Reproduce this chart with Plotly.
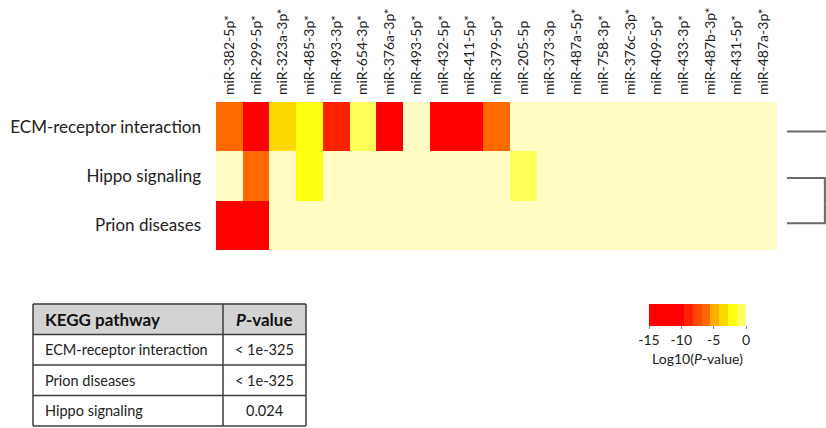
import plotly.graph_objects as go

# miRNAs (columns) and KEGG pathways (rows)
mirnas = [
    "miR-382-5p*", "miR-299-5p*", "miR-323a-3p*", "miR-485-3p*", "miR-493-3p*",
    "miR-654-3p*", "miR-376a-3p*", "miR-493-5p*", "miR-432-5p*", "miR-411-5p*",
    "miR-379-5p*", "miR-205-5p", "miR-373-3p", "miR-487a-5p*", "miR-758-3p*",
    "miR-376c-3p*", "miR-409-5p*", "miR-433-3p*", "miR-487b-3p*", "miR-431-5p*",
    "miR-487a-3p*",
]
pathways = ["ECM-receptor interaction", "Hippo signaling", "Prion diseases"]

# log10(P-value) per pathway and miRNA
log_p_ecm = [-6.5, -15, -3.5, -2.0, -9.0, -1.0, -15, 0, -15, -15, -6.5,
             0, 0, 0, 0, 0, 0, 0, 0, 0, 0]
log_p_hippo = [0, -6.5, 0, -2.0, 0, 0, 0, 0, 0, 0, 0,
               -1.0, 0, 0, 0, 0, 0, 0, 0, 0, 0]
log_p_prion = [-15, -15, 0, 0, 0, 0, 0, 0, 0, 0, 0,
               0, 0, 0, 0, 0, 0, 0, 0, 0, 0]

# Row dendrogram: leaf positions and merge heights
dendro_leaf_y = [0.1, 1.04, 1.96]
dendro_merges = [(1, 2, 1.0), (0, 3, 1.6)]  # (node a, node b, height); node 3 = first merge

# Pathway enrichment table
table_header = ["<b>KEGG pathway</b>", "<b><i>P</i>-value</b>"]
table_pathways = ["ECM-receptor interaction", "Prion diseases", "Hippo signaling"]
table_pvalues = ["< 1e-325", "< 1e-325", "0.024"]

# Colorbar range and bins
z_min, z_max = -15, 0
bin_edges = [-15, -9.6, -8.2, -6.85, -5.5, -4.1, -2.75, -1.4, -0.1, 0]
bin_colors = ["#FF0000", "#FF2200", "#FF4A00", "#FF6A00", "#FFAE00",
              "#FFD800", "#FFFF10", "#FFFF5A", "#FFFDC4"]

W, H = 826, 428
FONT = "Lato"


def discrete_scale(edges, colors, lo, hi):
    scale = []
    for i, c in enumerate(colors):
        a = (edges[i] - lo) / (hi - lo)
        b = (edges[i + 1] - lo) / (hi - lo)
        scale.append([a, c])
        scale.append([b, c])
    return scale


def px(x):
    return x / W


def py(y):
    return 1 - y / H


z = [log_p_ecm, log_p_hippo, log_p_prion]
xs = list(range(len(mirnas)))
ys = list(range(len(pathways)))

fig = go.Figure()

fig.add_trace(go.Heatmap(
    z=z, x=xs, y=ys,
    zmin=z_min, zmax=z_max,
    colorscale=discrete_scale(bin_edges, bin_colors, z_min, z_max),
    xaxis="x", yaxis="y",
    showscale=True,
    colorbar=dict(
        orientation="h",
        lenmode="pixels", len=97,
        thickness=22,
        x=px(697.5), xanchor="center",
        y=py(304), yanchor="top",
        outlinewidth=0,
        tickvals=[-15, -10, -5, 0],
        ticktext=["-15", "-10", "-5", "0"],
        ticks="outside", ticklen=3, tickcolor="#888",
        tickfont=dict(family=FONT, size=14, color="#222"),
        title=dict(text="Log10(<i>P</i>-value)", side="bottom",
                   font=dict(family=FONT, size=14, color="#222")),
        xpad=0, ypad=0,
    ),
    hoverongaps=False,
))

# Dendrogram drawn from the merge list
node_y = list(dendro_leaf_y)
node_h = [0.0] * len(dendro_leaf_y)
dx, dy = [], []
for a, b, h in dendro_merges:
    dx += [node_h[a], h, h, node_h[b], None]
    dy += [node_y[a], node_y[a], node_y[b], node_y[b], None]
    node_y.append((node_y[a] + node_y[b]) / 2)
    node_h.append(h)

fig.add_trace(go.Scatter(
    x=dx, y=dy, mode="lines",
    line=dict(color="#6a6a6a", width=2),
    xaxis="x2", yaxis="y",
    hoverinfo="skip", showlegend=False,
))

# Enrichment table: grid lines as shapes, cell texts as annotations
tx0, tx_div, tx1 = 33, 223, 306
ty0, ty1 = 304, 426
n_rows = len(table_pathways) + 1
row_h = (ty1 - ty0) / n_rows
border = "#3c3c3c"

shapes = [
    dict(type="rect", xref="paper", yref="paper",
         x0=px(tx0), x1=px(tx1), y0=py(ty0), y1=py(ty0 + row_h),
         fillcolor="#D3D3D3", line=dict(width=0), layer="below"),
]
for r in range(n_rows + 1):
    yy = py(ty0 + r * row_h)
    shapes.append(dict(type="line", xref="paper", yref="paper",
                       x0=px(tx0), x1=px(tx1), y0=yy, y1=yy,
                       line=dict(color=border, width=1.5)))
for xx in (tx0, tx_div, tx1):
    shapes.append(dict(type="line", xref="paper", yref="paper",
                       x0=px(xx), x1=px(xx), y0=py(ty0), y1=py(ty1),
                       line=dict(color=border, width=1.5)))

annotations = []
rows = [table_header] + [[p, v] for p, v in zip(table_pathways, table_pvalues)]
for r, (c1, c2) in enumerate(rows):
    yc = py(ty0 + (r + 0.5) * row_h)
    size = 17 if r == 0 else 14.5
    color = "#111" if r == 0 else "#222"
    annotations.append(dict(text=c1, xref="paper", yref="paper",
                            x=px(tx0 + 10), y=yc, xanchor="left", yanchor="middle",
                            showarrow=False, font=dict(family=FONT, size=size, color=color)))
    annotations.append(dict(text=c2, xref="paper", yref="paper",
                            x=px((tx_div + tx1) / 2), y=yc, xanchor="center", yanchor="middle",
                            showarrow=False, font=dict(family=FONT, size=size, color=color)))

fig.update_layout(
    width=W, height=H,
    margin=dict(l=0, r=0, t=0, b=0),
    paper_bgcolor="white", plot_bgcolor="white",
    showlegend=False,
    shapes=shapes,
    annotations=annotations,
    xaxis=dict(
        domain=[px(216), px(777)],
        range=[-0.5, len(mirnas) - 0.5],
        side="top",
        tickmode="array", tickvals=xs,
        ticktext=mirnas,
        tickangle=-90,
        tickfont=dict(family=FONT, size=14, color="#222"),
        ticks="", ticklabelstandoff=6,
        showgrid=False, zeroline=False, showline=False,
        anchor="y",
    ),
    yaxis=dict(
        domain=[py(250), py(102)],
        range=[len(pathways) - 0.5, -0.5],
        tickmode="array", tickvals=ys, ticktext=pathways,
        tickfont=dict(family=FONT, size=17, color="#222"),
        ticks="", ticklabelstandoff=14,
        showgrid=False, zeroline=False, showline=False,
        anchor="x",
    ),
    xaxis2=dict(
        domain=[px(787), 1.0],
        range=[0, 1.03],
        visible=False,
        anchor="y",
    ),
)

fig.write_html("out.html")
